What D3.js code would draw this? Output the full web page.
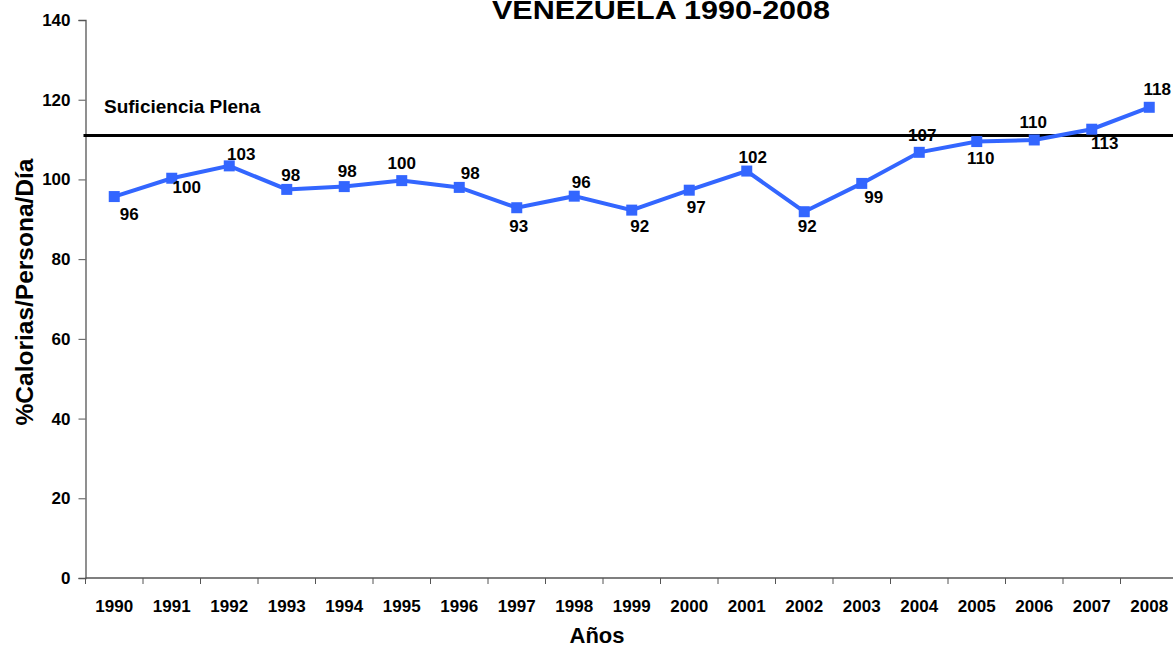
<!DOCTYPE html>
<html>
<head>
<meta charset="utf-8">
<script src="https://cdn.jsdelivr.net/npm/d3@7"></script>
<style>
  body { margin: 0; background: #fff; }
  svg { display: block; font-family: "Liberation Sans", Arial, sans-serif; font-weight: bold; }
</style>
</head>
<body>
<svg id="chart" width="1173" height="646"></svg>
<script>
var years = ["1990", "1991", "1992", "1993", "1994", "1995", "1996", "1997", "1998", "1999",
             "2000", "2001", "2002", "2003", "2004", "2005", "2006", "2007", "2008"];
var calorias = [95.7, 100.3, 103.4, 97.5, 98.2, 99.7, 98.0, 92.9, 95.8, 92.3,
                97.3, 102.1, 91.9, 99.0, 106.8, 109.5, 109.9, 112.6, 118.1];
var yTicks = [0, 20, 40, 60, 80, 100, 120, 140];
var suficiencia = 111;

// where each data label sits relative to its point (dx, baseline dy)
var labelPos = [[15, 23], [15, 15], [12, -6], [4, -8], [3, -10], [0, -12], [11, -8], [2, 24], [7, -8], [8, 22],
                [7, 23], [6, -8], [3, 20], [12, 20], [3, -11], [4, 22], [-1, -12], [13, 20], [8, -12]];

var svg = d3.select("#chart");
var plotLeft = 85.5, plotTop = 20, plotBottom = 578, band = 57.5;

var x = d3.scaleBand()
    .domain(years)
    .range([plotLeft, plotLeft + band * years.length])
    .padding(0);

var y = d3.scaleLinear()
    .domain([0, 140])
    .range([plotBottom, plotTop]);

// y axis
var yAxis = svg.append("g")
    .attr("transform", "translate(" + plotLeft + ",0)")
    .call(d3.axisLeft(y).tickValues(yTicks).tickSize(7).tickPadding(8));
yAxis.select(".domain").attr("stroke", "#555").attr("stroke-width", 1.3);
yAxis.selectAll(".tick line").attr("stroke", "#555");
yAxis.selectAll("text").attr("font-size", 17).attr("font-weight", "bold").attr("fill", "#000")
    .attr("font-family", "Liberation Sans, Arial, sans-serif");

// x axis: ticks on band edges
var xg = svg.append("g").attr("transform", "translate(0," + plotBottom + ")");
xg.append("line")
    .attr("x1", plotLeft).attr("x2", 1173)
    .attr("stroke", "#555").attr("stroke-width", 1.3);
xg.selectAll(".tk")
    .data(years)
    .enter().append("line")
    .attr("x1", d => x(d)).attr("x2", d => x(d))
    .attr("y1", 0).attr("y2", 6)
    .attr("stroke", "#555");
xg.selectAll("text")
    .data(years)
    .enter().append("text")
    .attr("x", d => x(d) + x.bandwidth() / 2)
    .attr("y", 34)
    .attr("text-anchor", "middle")
    .attr("font-size", 17)
    .text(d => d);

// full sufficiency reference line
svg.append("line")
    .attr("x1", plotLeft - 2).attr("x2", 1173)
    .attr("y1", y(suficiencia)).attr("y2", y(suficiencia))
    .attr("stroke", "#000").attr("stroke-width", 3);
svg.append("text")
    .attr("x", 104).attr("y", 113)
    .attr("font-size", 19)
    .text("Suficiencia Plena");

// series line
var cx = (d, i) => x(years[i]) + x.bandwidth() / 2;
var line = d3.line()
    .x((d, i) => cx(d, i))
    .y(d => y(d));

svg.append("path")
    .datum(calorias)
    .attr("d", line)
    .attr("fill", "none")
    .attr("stroke", "#3366ff")
    .attr("stroke-width", 4);

svg.selectAll(".mk")
    .data(calorias)
    .enter().append("rect")
    .attr("x", (d, i) => cx(d, i) - 5.5)
    .attr("y", d => y(d) - 5.5)
    .attr("width", 11).attr("height", 11)
    .attr("fill", "#3366ff");

svg.selectAll(".lbl")
    .data(calorias)
    .enter().append("text")
    .attr("x", (d, i) => cx(d, i) + labelPos[i][0])
    .attr("y", (d, i) => y(d) + labelPos[i][1])
    .attr("text-anchor", "middle")
    .attr("font-size", 17)
    .text(d => Math.round(d));

// titles
svg.append("text")
    .attr("x", 661).attr("y", 19)
    .attr("text-anchor", "middle")
    .attr("font-size", 26)
    .attr("textLength", 338)
    .attr("lengthAdjust", "spacingAndGlyphs")
    .text("VENEZUELA 1990-2008");

svg.append("text")
    .attr("transform", "translate(33,292) rotate(-90)")
    .attr("text-anchor", "middle")
    .attr("font-size", 24.5)
    .text("%Calorias/Persona/Día");

svg.append("text")
    .attr("x", 597).attr("y", 643)
    .attr("text-anchor", "middle")
    .attr("font-size", 22)
    .text("Años");
</script>
</body>
</html>
